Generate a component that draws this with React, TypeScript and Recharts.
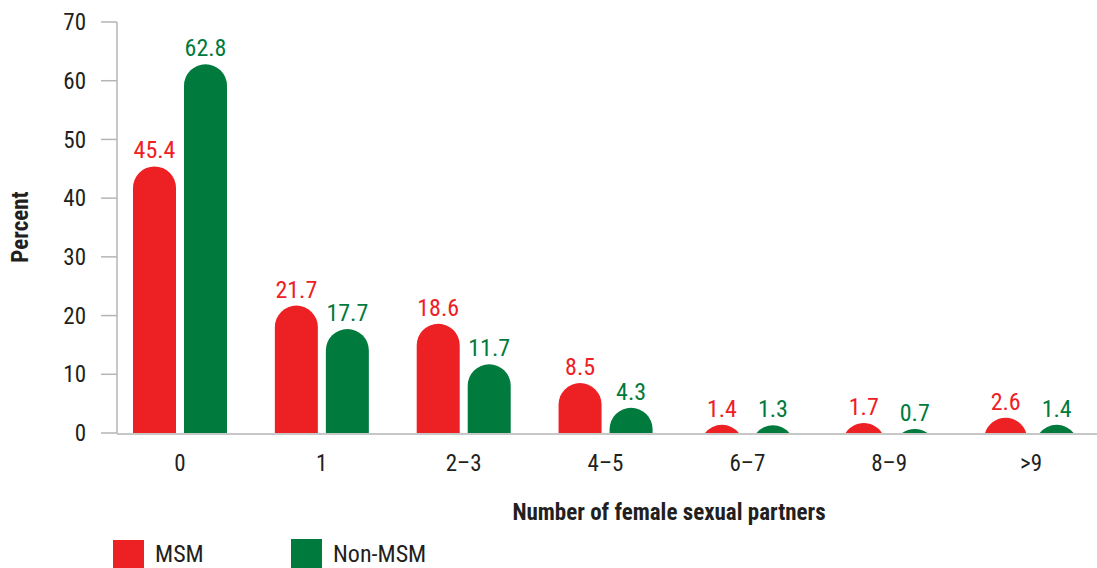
import { BarChart, Bar, XAxis, YAxis, LabelList } from "recharts";

const categories = ["0", "1", "2–3", "4–5", "6–7", "8–9", ">9"];
const msmValues = [45.4, 21.7, 18.6, 8.5, 1.4, 1.7, 2.6];
const nonMsmValues = [62.8, 17.7, 11.7, 4.3, 1.3, 0.7, 1.4];
const yTicks = [0, 10, 20, 30, 40, 50, 60, 70];
const boundaryTicks = [0, 1, 2, 3, 4, 5, 6, 7];

const RED = "#ED2024";
const GREEN = "#007A3D";
const AXIS = "#B5B5B5";
const TEXT = "#231F20";
const FONT = '"Roboto Condensed", "Open Sans", "Liberation Sans Narrow", Roboto, sans-serif';
const STRETCH = "condensed";

const data = categories.map((group, i) => ({
  group,
  idx: i + 0.5,
  msm: msmValues[i],
  nonMsm: nonMsmValues[i],
}));

// bar with a round top; very short bars become a slice of the circle
const Dome = (props: any) => {
  const { x, y, width, height, fill } = props;
  if (!height || height <= 0) return null;
  const r = width / 2;
  const bottom = y + height;
  const cx = x + r;
  let d: string;
  if (height >= r) {
    d = `M${x},${bottom} L${x},${y + r} A${r},${r} 0 0 1 ${x + width},${y + r} L${x + width},${bottom} Z`;
  } else {
    const c = Math.sqrt(r * r - (r - height) * (r - height));
    d = `M${cx - c},${bottom} A${r},${r} 0 0 1 ${cx + c},${bottom} Z`;
  }
  return <path d={d} fill={fill} />;
};

const textStyle = { fontFamily: FONT, fontStretch: STRETCH } as const;

export default function App() {
  return (
    <div
      style={{
        position: "absolute",
        left: 0,
        top: 0,
        width: 1097,
        height: 568,
        fontFamily: FONT,
        fontStretch: STRETCH,
        background: "#fff",
      }}
    >
      <BarChart
        width={1097}
        height={568}
        data={data}
        margin={{ top: 22, right: 0, left: 0, bottom: 0 }}
        barSize={43}
        barGap={8}
      >
        <XAxis
          xAxisId="cat"
          dataKey="group"
          height={1}
          axisLine={false}
          tickLine={false}
          tickSize={0}
          tickMargin={22}
          padding={{ left: -8, right: -5 }}
          tick={{ fill: TEXT, fontSize: 23, style: textStyle }}
        />
        {/* boundary ticks and axis line */}
        <XAxis
          xAxisId="grid"
          type="number"
          dataKey="idx"
          domain={[0, 7]}
          ticks={boundaryTicks}
          tick={false}
          tickSize={16}
          height={134}
          axisLine={{ stroke: AXIS, strokeWidth: 1.5 }}
          tickLine={{ stroke: AXIS, strokeWidth: 1.5 }}
        />
        <YAxis
          width={117}
          domain={[0, 70]}
          ticks={yTicks}
          tickSize={16}
          tickMargin={15}
          axisLine={{ stroke: AXIS, strokeWidth: 1.5 }}
          tickLine={{ stroke: AXIS, strokeWidth: 1.5 }}
          tick={{ fill: TEXT, fontSize: 23, style: textStyle }}
        />
        <Bar xAxisId="cat" dataKey="msm" name="MSM" fill={RED} shape={Dome} isAnimationActive={false}>
          <LabelList dataKey="msm" position="top" offset={8} fill={RED} fontSize={24} style={textStyle} />
        </Bar>
        <Bar xAxisId="cat" dataKey="nonMsm" name="Non-MSM" fill={GREEN} shape={Dome} isAnimationActive={false}>
          <LabelList dataKey="nonMsm" position="top" offset={8} fill={GREEN} fontSize={24} style={textStyle} />
        </Bar>
      </BarChart>

      <div
        style={{
          position: "absolute",
          left: 20,
          top: 227,
          transform: "translate(-50%, -50%) rotate(-90deg)",
          fontWeight: "bold",
          fontSize: 23,
          color: TEXT,
          whiteSpace: "nowrap",
        }}
      >
        Percent
      </div>
      <div
        style={{
          position: "absolute",
          left: 669,
          top: 512,
          transform: "translate(-50%, -50%)",
          fontWeight: "bold",
          fontSize: 23,
          color: TEXT,
          whiteSpace: "nowrap",
        }}
      >
        Number of female sexual partners
      </div>

      <div style={{ position: "absolute", left: 113, top: 540, width: 31, height: 28, background: RED }} />
      <div style={{ position: "absolute", left: 155, top: 554, transform: "translateY(-50%)", fontSize: 24, color: TEXT }}>MSM</div>
      <div style={{ position: "absolute", left: 291, top: 539, width: 31, height: 29, background: GREEN }} />
      <div style={{ position: "absolute", left: 333, top: 554, transform: "translateY(-50%)", fontSize: 24, color: TEXT }}>Non-MSM</div>
    </div>
  );
}
